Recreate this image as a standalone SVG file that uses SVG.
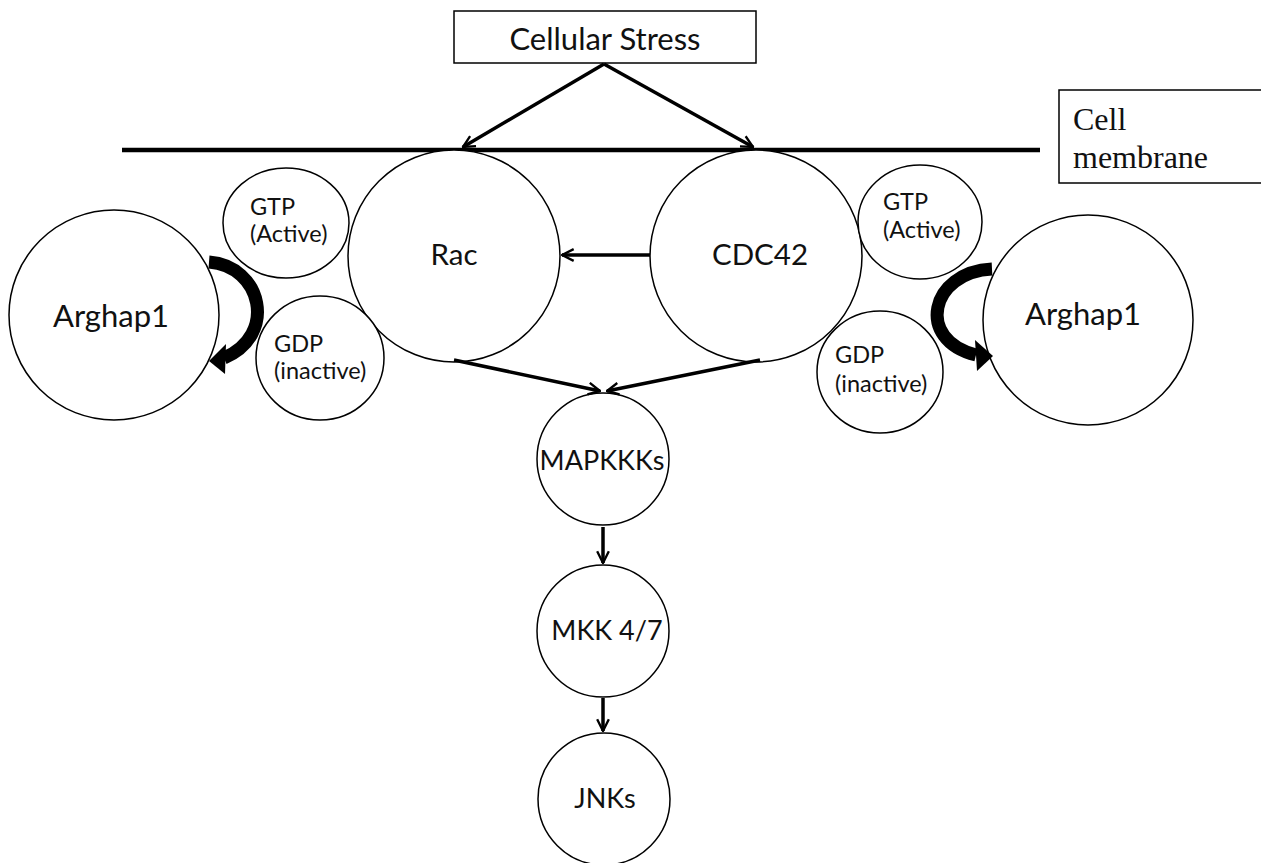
<svg xmlns="http://www.w3.org/2000/svg" width="1261" height="863" viewBox="0 0 1261 863">
<style>
.node{fill:#fff;stroke:#000;stroke-width:1.5}
.lbl{font-family:Lato,"Open Sans",sans-serif;fill:#111;text-anchor:middle}
.sm{font-family:Lato,"Open Sans",sans-serif;fill:#111;font-size:23.5px}
.serif{font-family:"Liberation Serif",serif;fill:#111;font-size:32px}
.conn{stroke:#000;stroke-width:3.5;fill:none;marker-end:url(#arr)}
.curve{stroke:#000;stroke-width:13;fill:none}
</style>
<defs>
<marker id="arr" viewBox="0 0 12 12" refX="11" refY="6" markerWidth="4" markerHeight="4" orient="auto" markerUnits="strokeWidth">
<path d="M1,1 L11,6 L1,11" fill="none" stroke="#000" stroke-width="2"/>
</marker>
</defs>
<rect width="1261" height="863" fill="#fff"/>
<g id="membrane">
<line x1="122" y1="150" x2="1040" y2="150" stroke="#000" stroke-width="4.5"/>
</g>
<g id="cellular-stress">
<rect class="node" x="454" y="11" width="302" height="52"/>
<text class="lbl" x="605" y="50" font-size="31">Cellular Stress</text>
</g>
<g id="cell-membrane-label">
<rect class="node" x="1059" y="90" width="210" height="93"/>
<text class="serif" x="1073" y="130">Cell</text>
<text class="serif" x="1073" y="168">membrane</text>
</g>
<g id="rac">
<circle class="node" cx="454" cy="256" r="106"/>
<text class="lbl" x="454" y="265" font-size="29.5">Rac</text>
</g>
<g id="cdc42">
<circle class="node" cx="756" cy="256" r="106"/>
<text class="lbl" x="760" y="265" font-size="29.5">CDC42</text>
</g>
<g id="gtp-left">
<ellipse class="node" cx="286" cy="223" rx="63" ry="55"/>
<text class="sm" x="250" y="215">GTP</text>
<text class="sm" x="250" y="242">(Active)</text>
</g>
<g id="gdp-left">
<ellipse class="node" cx="320" cy="358" rx="64" ry="62"/>
<text class="sm" x="274" y="352">GDP</text>
<text class="sm" x="274" y="379">(inactive)</text>
</g>
<g id="arghap1-left">
<circle class="node" cx="114" cy="315" r="105"/>
<text class="lbl" x="111" y="327" font-size="31">Arghap1</text>
</g>
<g id="gtp-right">
<ellipse class="node" cx="920" cy="222" rx="62" ry="57"/>
<text class="sm" x="883" y="210">GTP</text>
<text class="sm" x="883" y="238">(Active)</text>
</g>
<g id="gdp-right">
<ellipse class="node" cx="880" cy="372" rx="63" ry="61"/>
<text class="sm" x="835" y="363">GDP</text>
<text class="sm" x="835" y="392">(inactive)</text>
</g>
<g id="arghap1-right">
<circle class="node" cx="1088" cy="320" r="105"/>
<text class="lbl" x="1083" y="325" font-size="31">Arghap1</text>
</g>
<g id="mapkkks">
<circle class="node" cx="603" cy="459" r="66"/>
<text class="lbl" x="602" y="470" font-size="27">MAPKKKs</text>
</g>
<g id="mkk47">
<circle class="node" cx="603" cy="631" r="66"/>
<text class="lbl" x="607" y="640" font-size="27">MKK 4/7</text>
</g>
<g id="jnks">
<circle class="node" cx="604" cy="799" r="66"/>
<text class="lbl" x="605" y="808" font-size="27">JNKs</text>
</g>
<g id="connectors">
<line class="conn" x1="604" y1="64" x2="463" y2="147"/>
<line class="conn" x1="604" y1="64" x2="753" y2="147"/>
<line class="conn" x1="650" y1="255" x2="562" y2="255"/>
<line class="conn" x1="454" y1="360" x2="600" y2="391"/>
<line class="conn" x1="760" y1="360" x2="607" y2="391"/>
<line class="conn" x1="603" y1="527" x2="603" y2="563"/>
<line class="conn" x1="603" y1="698" x2="603" y2="731"/>
<path class="curve" d="M209 262 C262 266 278 335 224 358"/>
<polygon points="209,361 226,344 225,374" fill="#000"/>
<path class="curve" d="M992 269 C930 272 915 340 976 355"/>
<polygon points="993,356 975,340 977,371" fill="#000"/>
</g>
</svg>
